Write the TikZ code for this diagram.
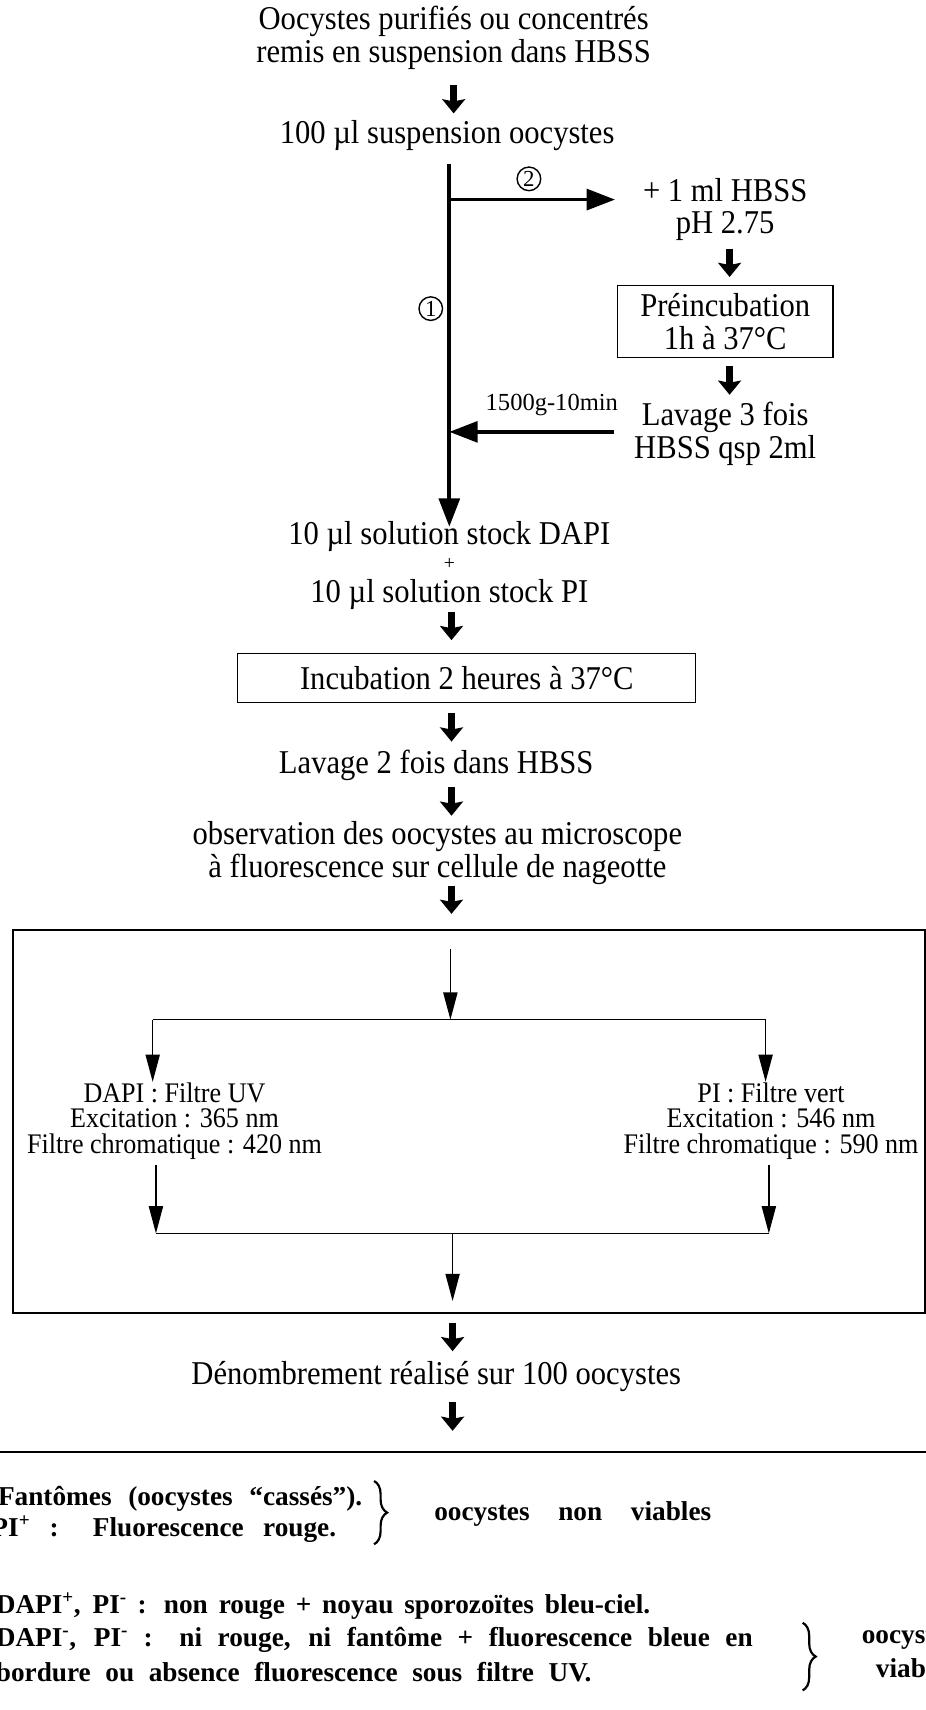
\documentclass[tikz,border=0pt]{standalone}
\usepackage{fontspec}
\setmainfont{Liberation Serif}[FakeStretch=0.92]
\newfontfamily\plainfont{Liberation Serif}
\usetikzlibrary{arrows.meta,decorations.pathreplacing}
\begin{document}
\begin{tikzpicture}[x=1pt,y=-1pt,
  txt/.style={font=\fontsize{30.5}{30}\selectfont, inner sep=0pt, align=center},
  smalltxt/.style={font=\fontsize{26}{23}\selectfont, inner sep=0pt, align=center},
  boldtxt/.style={font=\plainfont\fontsize{25}{25}\selectfont\bfseries, inner sep=0pt, anchor=west},
  boxed/.style={draw, line width=1.3pt, inner sep=0pt, minimum width=#1},
  chunky/.style={line width=6pt, -{Stealth[length=13pt,width=21pt,inset=2pt]}},
  mainarrow/.style={line width=3.5pt, -{Triangle[length=26pt,width=19pt]}},
  thinarrow/.style={line width=1.3pt, -{Triangle[length=25pt,width=13pt]}},
  plainline/.style={line width=1.3pt},
  circnum/.style={draw, circle, line width=1.3pt, inner sep=1.5pt, font=\plainfont\fontsize{21}{21}\selectfont},
  bracestyle/.style={line width=2pt, decorate, decoration={brace, amplitude=12pt}}
]
\useasboundingbox (0,0) rectangle (849,1568);
\clip (0,0) rectangle (849,1568);

% top texts
\node[txt] (t1) at (416,35) {Oocystes purifiés ou concentrés\\remis en suspension dans HBSS};
\coordinate (a1s) at (416,78); \coordinate (a1e) at (416,104);
\draw[chunky] (a1s) -- (a1e);
\node[txt] (t2) at (410,124) {100 µl suspension oocystes};

% main vertical
\coordinate (vtop) at (412,150);
\coordinate (vbot) at (412,483);
\coordinate (br2) at (412,183);
\coordinate (br1) at (412,396);
\draw[mainarrow] (vtop) -- (vbot);

% branch 2
\node[txt] (t3) at (665,192) {+ 1 ml HBSS\\pH 2.75};
\coordinate (br2e) at (564,183);
\draw[mainarrow] (br2) -- (br2e);
\node[circnum] (c2) at (485,164) {2};
\node[circnum] (c1) at (395,283) {1};

\coordinate (a2s) at (669,228); \coordinate (a2e) at (669,254);
\draw[chunky] (a2s) -- (a2e);
\node[txt, boxed=198pt, minimum height=66pt] (b1) at (665,295) {Préincubation\\1h à 37°C};
\coordinate (a3s) at (669,336); \coordinate (a3e) at (669,362);
\draw[chunky] (a3s) -- (a3e);
\node[txt] (t4) at (665,398) {Lavage 3 fois\\HBSS qsp 2ml};
\coordinate (br1s) at (563,396);
\draw[mainarrow] (br1s) -- (br1);
\node[font=\plainfont\fontsize{22.5}{22}\selectfont, inner sep=0pt] (lbl) at (506,371) {1500g-10min};

% DAPI PI
\node[txt] (t5) at (412,492) {10 µl solution stock DAPI};
\node[font=\plainfont\fontsize{18}{18}\selectfont, inner sep=0pt] (plus) at (412,517) {+};
\node[txt] (t6) at (412,545) {10 µl solution stock PI};
\coordinate (a4s) at (414,561); \coordinate (a4e) at (414,587);
\draw[chunky] (a4s) -- (a4e);
\node[txt, draw, line width=1.3pt, minimum width=420pt, minimum height=45pt] (b2) at (428,621.5) {Incubation 2 heures à 37°C};
\coordinate (a5s) at (414,654); \coordinate (a5e) at (414,680);
\draw[chunky] (a5s) -- (a5e);
\node[txt] (t7) at (400,702) {Lavage 2 fois dans HBSS};
\coordinate (a6s) at (414,722); \coordinate (a6e) at (414,748);
\draw[chunky] (a6s) -- (a6e);
\node[txt] (t8) at (401,782) {observation des oocystes au microscope\\à fluorescence sur cellule de nageotte};
\coordinate (a7s) at (414,812); \coordinate (a7e) at (414,838);
\draw[chunky] (a7s) -- (a7e);

% big box
\node[draw, line width=1.8pt, inner sep=0pt, minimum width=836pt, minimum height=351pt] (bigbox) at (430,1028.5) {};
\coordinate (i1s) at (413,870); \coordinate (i1e) at (413,935);
\draw[thinarrow] (i1s) -- (i1e);
\coordinate (hL) at (140,935); \coordinate (hR) at (702,935);
\draw[plainline] (hL) -- (hR);
\coordinate (dL) at (140,992); \coordinate (dR) at (702,992);
\draw[thinarrow] (hL) -- (dL);
\draw[thinarrow] (hR) -- (dR);
\node[smalltxt] (fL) at (160,1028) {DAPI : Filtre UV\\Excitation : 365 nm\\Filtre chromatique : 420 nm};
\node[smalltxt] (fR) at (707,1028) {PI : Filtre vert\\Excitation : 546 nm\\Filtre chromatique : 590 nm};
\coordinate (uL) at (143,1068); \coordinate (uR) at (705,1068);
\coordinate (lL) at (143,1131); \coordinate (lR) at (705,1131);
\draw[thinarrow] (uL) -- (lL);
\draw[thinarrow] (uR) -- (lR);
\draw[plainline] (lL) -- (lR);
\coordinate (cM) at (415,1131); \coordinate (cE) at (415,1193);
\draw[thinarrow] (cM) -- (cE);

\coordinate (a8s) at (415,1213); \coordinate (a8e) at (415,1239);
\draw[chunky] (a8s) -- (a8e);
\node[txt] (t9) at (400,1262) {Dénombrement réalisé sur 100 oocystes};
\coordinate (a9s) at (415,1286); \coordinate (a9e) at (415,1312);
\draw[chunky] (a9s) -- (a9e);

% separator
\coordinate (sepL) at (0,1331); \coordinate (sepR) at (849,1331);
\draw[line width=1.8pt] (sepL) -- (sepR);

% bold legend
\node[boldtxt] (r1) at (-2,1374) {\makebox[334pt][s]{Fantômes (oocystes “cassés”).}};
\node[boldtxt] (r2) at (-8,1402) {\makebox[316pt][s]{PI\textsuperscript{+} : Fluorescence rouge.}};
\coordinate (bz1t) at (343,1358); \coordinate (bz1b) at (343,1416);
\draw[bracestyle] (bz1t) -- (bz1b);
\node[boldtxt] (nv) at (398,1388) {\makebox[254pt][s]{oocystes non viables}};

\node[boldtxt] (r3) at (-4,1473) {\makebox[600pt][s]{DAPI\textsuperscript{+}, PI\textsuperscript{-} : non rouge + noyau sporozoïtes bleu-ciel.}};
\node[boldtxt] (r4) at (-4,1504) {\makebox[694pt][s]{DAPI\textsuperscript{-}, PI\textsuperscript{-} : ni rouge, ni fantôme + fluorescence bleue en}};
\node[boldtxt] (r5) at (-4,1533) {\makebox[546pt][s]{bordure ou absence fluorescence sous filtre UV.}};
\coordinate (bz2t) at (736,1488); \coordinate (bz2b) at (736,1550);
\draw[bracestyle] (bz2t) -- (bz2b);
\node[boldtxt] (v1) at (790,1503) {oocystes};
\node[boldtxt] (v2) at (803,1530) {viables};
\end{tikzpicture}
\end{document}
